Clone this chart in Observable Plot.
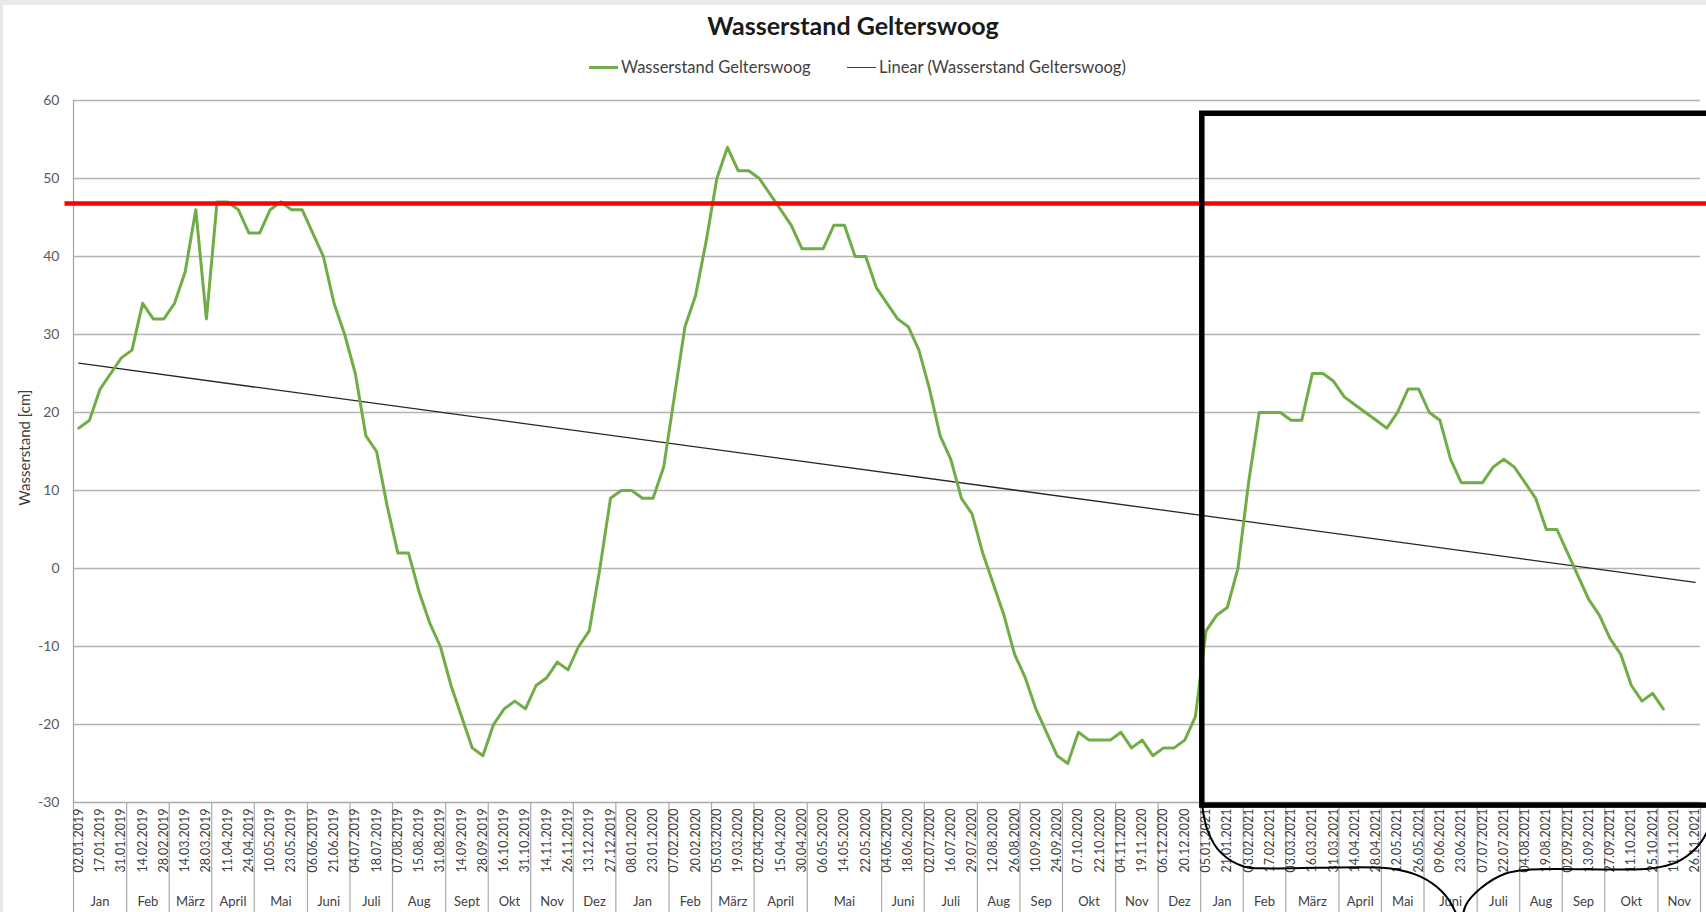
<!DOCTYPE html>
<html>
<head>
<meta charset="utf-8">
<script src="https://cdn.jsdelivr.net/npm/d3@7"></script>
<script src="https://cdn.jsdelivr.net/npm/@observablehq/plot@0.6"></script>
<style>
  html, body { margin: 0; padding: 0; background: #e9e9e9; overflow: hidden; width: 1706px; height: 912px; }
  #panel { position: absolute; left: 3px; top: 5px; width: 1703px; height: 907px; background: #fff; }
  #title { position: absolute; left: 0; width: 1706px; top: 13px; text-align: center; font-family: Lato, sans-serif; font-weight: 700; font-size: 25px; color: #1a1a1a; line-height: 1; }
  .leg { position: absolute; top: 58px; font-family: Lato, sans-serif; font-size: 16.5px; color: #404040; line-height: 18px; white-space: nowrap; display: flex; align-items: center; }
  .leg span.sw { display: inline-block; width: 29px; height: 0; margin-right: 3px; }
  #chart { position: absolute; left: 0; top: 85px; }
</style>
</head>
<body>
<div id="panel"></div>
<div id="title">Wasserstand Gelterswoog</div>
<div class="leg" style="left:589px"><span class="sw" style="border-top:3px solid #70ad47"></span>Wasserstand Gelterswoog</div>
<div class="leg" style="left:847px"><span class="sw" style="border-top:1.5px solid #404040"></span>Linear (Wasserstand Gelterswoog)</div>
<div id="chart"></div>
<script>
// ---- data (one value per measurement category) ----
const values = [
  18,19,23,25,27,28,34,32,32,34,
  38,46,32,47,47,46,43,43,46,47,
  46,46,43,40,34,30,25,17,15,8,
  2,2,-3,-7,-10,-15,-19,-23,-24,-20,
  -18,-17,-18,-15,-14,-12,-13,-10,-8,0,
  9,10,10,9,9,13,22,31,35,42,
  50,54,51,51,50,48,46,44,41,41,
  41,44,44,40,40,36,34,32,31,28,
  23,17,14,9,7,2,-2,-6,-11,-14,
  -18,-21,-24,-25,-21,-22,-22,-22,-21,-23,
  -22,-24,-23,-23,-22,-19,-8,-6,-5,0,
  11,20,20,20,19,19,25,25,24,22,
  21,20,19,18,20,23,23,20,19,14,
  11,11,11,13,14,13,11,9,5,5,
  2,-1,-4,-6,-9,-11,-15,-17,-16,-18
];
// label shown on every second category
const dateLabels = [
  "02.01.2019","17.01.2019","31.01.2019","14.02.2019","28.02.2019","14.03.2019","28.03.2019",
  "11.04.2019","24.04.2019","10.05.2019","23.05.2019","06.06.2019","21.06.2019","04.07.2019",
  "18.07.2019","07.08.2019","15.08.2019","31.08.2019","14.09.2019","28.09.2019","16.10.2019",
  "31.10.2019","14.11.2019","26.11.2019","13.12.2019","27.12.2019",
  "08.01.2020","23.01.2020","07.02.2020","20.02.2020","05.03.2020","19.03.2020","02.04.2020",
  "15.04.2020","30.04.2020","06.05.2020","14.05.2020","22.05.2020","04.06.2020","18.06.2020",
  "02.07.2020","16.07.2020","29.07.2020","12.08.2020","26.08.2020","10.09.2020","24.09.2020",
  "07.10.2020","22.10.2020","04.11.2020","19.11.2020","06.12.2020","20.12.2020",
  "05.01.2021","21.01.2021","03.02.2021","17.02.2021","03.03.2021","16.03.2021","31.03.2021",
  "14.04.2021","28.04.2021","12.05.2021","26.05.2021","09.06.2021","23.06.2021","07.07.2021",
  "22.07.2021","04.08.2021","19.08.2021","02.09.2021","13.09.2021","27.09.2021","11.10.2021",
  "25.10.2021","11.11.2021","26.11.2021"
];
const monthNames = [
  "Jan","Feb","März","April","Mai","Juni","Juli","Aug","Sept","Okt","Nov","Dez",
  "Jan","Feb","März","April","Mai","Juni","Juli","Aug","Sep","Okt","Nov","Dez",
  "Jan","Feb","März","April","Mai","Juni","Juli","Aug","Sep","Okt","Nov"
];
const monthCounts = [
  5,4,4,4,5,4,4,5,4,4,4,4,
  5,4,4,5,7,4,5,4,4,5,4,4,
  4,4,5,4,4,5,4,4,4,5,4
];
const yTicks = [-30,-20,-10,0,10,20,30,40,50,60];
const yLabel = "Wasserstand [cm]";
// hand-drawn annotations (in axis units: category index / cm)
const markLevel = [46.8];
const highlightBox = [{x1: 106.15, x2: 162, y1: -30.4, y2: 58.3}];
const braceLeft = [
  [106.15,-30.4],[106.65,-33.6],[107.87,-36.4],[110.04,-38.2],[112.57,-38.45],
  [123.86,-38.45],[126.68,-39.5],[128.75,-41.5],[129.97,-44.1],[130.26,-45.8]
];
const braceRight = [
  [130.54,-45.8],[130.92,-43.2],[132.33,-41.0],[134.68,-39.1],[137.03,-38.6],
  [148.32,-38.45],[150.67,-37.7],[152.55,-35.9],[153.59,-33.85],[154.16,-31.7]
];

// ---- derived tables ----
const nCat = d3.sum(monthCounts);
const rows = values.map((v, i) => ({x: i + 0.5, v}));
const labelRows = dateLabels.map((t, k) => ({x: 2 * k + 0.5, t}));
let acc = 0;
const monthRows = monthNames.map((m, k) => { const a = acc; acc += monthCounts[k]; return {m, a, b: acc, c: (a + acc) / 2}; });
const bounds = [0, ...monthRows.map(d => d.b)];
// linear regression (Excel-style linear trendline)
const xs = values.map((v, i) => i), mx = d3.mean(xs), my = d3.mean(values);
const slope = d3.sum(values, (v, i) => (i - mx) * (v - my)) / d3.sum(xs, x => (x - mx) ** 2);
const icpt = my - slope * mx;
const trend = [0, nCat - 1].map(i => ({x: i + 0.5, v: icpt + slope * i}));

const chart = Plot.plot({
  width: 1706, height: 827,
  marginLeft: 73, marginRight: 6, marginTop: 15, marginBottom: 110,
  style: {fontFamily: "Lato, sans-serif", background: "transparent", overflow: "visible"},
  x: {domain: [0, nCat], axis: null},
  y: {domain: [-30, 60], axis: null},
  marks: [
    Plot.ruleY(yTicks.filter(d => d > -30), {x1: 0, x2: nCat, stroke: "#b4b4b4", strokeWidth: 1.3}),
    Plot.ruleX(bounds, {y1: -30, y2: -46, stroke: "#a9a9a9", strokeWidth: 1.2}),
    Plot.ruleX([0], {y1: -30, y2: 60, stroke: "#a9a9a9", strokeWidth: 1.3}),
    Plot.ruleY([-30], {x1: 0, x2: nCat, stroke: "#a9a9a9", strokeWidth: 1.3}),
    Plot.text(yTicks, {x: 0, y: d => d, text: d => String(d), textAnchor: "end", dx: -14, fontSize: 14, fill: "#595959"}),
    Plot.text([yLabel], {x: 0, y: 15.5, rotate: -90, dx: -48, fontSize: 15, fill: "#404040"}),
    Plot.text(labelRows, {x: "x", y: -30, text: "t", rotate: -90, textAnchor: "end", dy: 6, fontSize: 12.5, fill: "#404040"}),
    Plot.text(monthRows, {x: "c", y: -30, text: "m", dy: 99, fontSize: 13, fill: "#404040"}),
    Plot.line(trend, {x: "x", y: "v", stroke: "#262626", strokeWidth: 1.3}),
    Plot.line(rows, {x: "x", y: "v", stroke: "#70ad47", strokeWidth: 3, strokeLinejoin: "round"}),
    Plot.ruleY(markLevel, {x1: -0.8, x2: 162, stroke: "#ff0000", strokeWidth: 4.5}),
    Plot.rect(highlightBox, {x1: "x1", x2: "x2", y1: "y1", y2: "y2", fill: "none", stroke: "#000", strokeWidth: 5.5}),
    Plot.line(braceLeft, {x: d => d[0], y: d => d[1], curve: "catmull-rom", stroke: "#000", strokeWidth: 2}),
    Plot.line(braceRight, {x: d => d[0], y: d => d[1], curve: "catmull-rom", stroke: "#000", strokeWidth: 2})
  ]
});
document.getElementById("chart").appendChild(chart);
</script>
</body>
</html>
